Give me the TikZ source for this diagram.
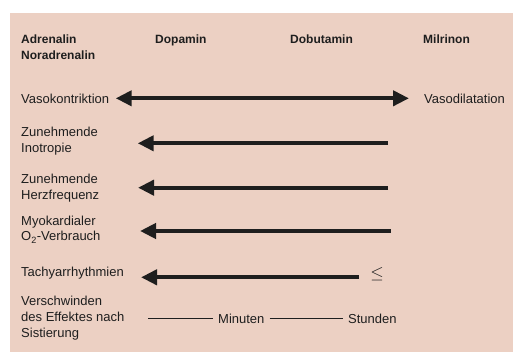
\documentclass[tikz,border=0pt]{standalone}
\usepackage{fontspec}
\setmainfont{Liberation Sans}
\usetikzlibrary{arrows.meta}

\definecolor{bgpink}{RGB}{236,208,195}
\definecolor{inkdark}{RGB}{30,30,30}

\tikzset{
  lbl/.style={anchor=base west, inner sep=0pt, align=left, text=inkdark,
    font=\fontsize{13}{16}\selectfont},
  head/.style={lbl, font=\fontsize{12}{16}\selectfont\bfseries},
  fatarrow/.style={-{Triangle[length=16pt,width=15pt]}, line width=4pt, draw=inkdark},
  thinline/.style={line width=0.6pt, draw=inkdark}
}

\begin{document}
\begin{tikzpicture}[x=1pt, y=-1pt]
  \useasboundingbox (0,0) rectangle (513,352);
  \fill[bgpink] (10,13) rectangle (513,352);

  % column heads (multi-line nodes sit on their last line)
  \node[head] (adr) at (21,59.5) {Adrenalin\\Noradrenalin};
  \node[head] (dop) at (155,43.5) {Dopamin};
  \node[head] (dob) at (290,43.5) {Dobutamin};
  \node[head] (mil) at (423,43.5) {Milrinon};

  % rows
  \node[lbl] (vaso) at (21,104) {Vasokontriktion};
  \node[lbl] (vasod) at (424,104) {Vasodilatation};
  \node[lbl] (ino) at (21,153) {Zunehmende\\Inotropie};
  \node[lbl] (hf) at (21,199.3) {Zunehmende\\Herzfrequenz};
  \node[lbl] (mvo) at (21,241) {Myokardialer\\O\textsubscript{2}-Verbrauch};
  \node[lbl] (tachy) at (21,276.7) {Tachyarrhythmien};
  \node[lbl, anchor=center, font=\fontsize{17}{17}\selectfont] (leq) at (377,274.5) {$\leq$};
  \node[lbl] (stop) at (21,337.7) {Verschwinden\\des Effektes nach\\Sistierung};

  % arrow ends
  \coordinate (vaso-l) at (115.7,98.3);
  \coordinate (vaso-r) at (409,98.3);
  \coordinate (ino-l) at (137.7,143.3);
  \coordinate (ino-r) at (388,143.3);
  \coordinate (hf-l) at (138,187.7);
  \coordinate (hf-r) at (388,187.7);
  \coordinate (mvo-l) at (140,231);
  \coordinate (mvo-r) at (390.7,231);
  \coordinate (tachy-l) at (141,277.3);
  \coordinate (tachy-r) at (359,277.3);

  \draw[fatarrow, {Triangle[length=16pt,width=15pt]}-{Triangle[length=16pt,width=15pt]}] (vaso-l) -- (vaso-r);
  \draw[fatarrow] (ino-r) -- (ino-l);
  \draw[fatarrow] (hf-r) -- (hf-l);
  \draw[fatarrow] (mvo-r) -- (mvo-l);
  \draw[fatarrow] (tachy-r) -- (tachy-l);

  % duration scale
  \node[lbl, anchor=west, inner sep=5pt] (min) at (213,318.4) {Minuten};
  \node[lbl, anchor=west, inner sep=5pt] (std) at (343,318.4) {Stunden};
  \coordinate (scale-l) at (148,318.4);
  \draw[thinline] (scale-l) -- (min.west);
  \draw[thinline] (min.east) -- (std.west);
\end{tikzpicture}
\end{document}
